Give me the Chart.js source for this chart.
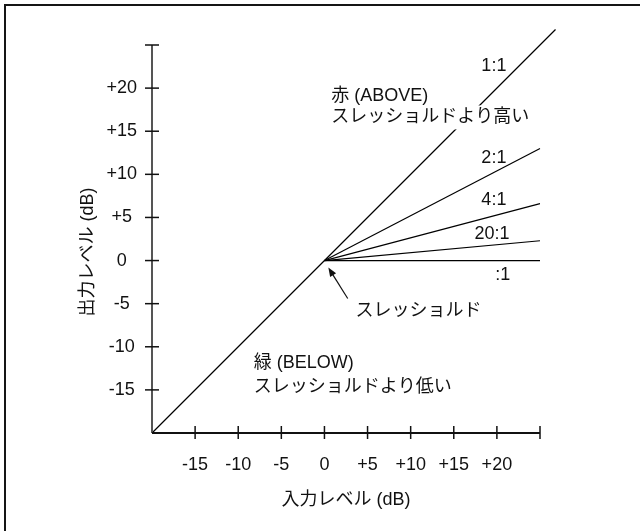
<!DOCTYPE html>
<html>
<head>
<meta charset="utf-8">
<script src="https://cdn.jsdelivr.net/npm/chart.js@4.4.1/dist/chart.umd.min.js"></script>
<style>
  html, body { margin: 0; padding: 0; background: #fff; width: 640px; height: 531px; overflow: hidden; }
  #frame { position: absolute; left: 4px; top: 4px; width: 2000px; height: 2000px;
           border-top: 2px solid #151515; border-left: 2px solid #151515; }
  #c { position: absolute; left: 0; top: 0; }
</style>
</head>
<body>
<div id="frame"></div>
<canvas id="c" width="640" height="531"></canvas>
<script>
// ---- data ----
const axisMin = -20;
const axisMax = 25;
const tickStep = 5;
const unityInput = [-20, 26.8];
const unityOutput = [-20, 26.8];
const ratioLabels = ['2:1', '4:1', '20:1', ':1'];
const ratioEndInput = [25, 25, 25, 25];
const ratioEndOutput = [13, 6.6, 2.3, 0];
const thresholdPoint = [0, 0];
const xTitle = '入力レベル (dB)';
const yTitle = '出力レベル (dB)';

// text annotations (data coordinates); bg = white box behind text
const notes = [
  { text: '1:1', x: 18.2, y: 22.6 },
  { text: '赤 (ABOVE)', x: 0.8, y: 19.1, bg: true },
  { text: 'スレッショルドより高い', x: 0.8, y: 16.6, bg: true },
  { text: '2:1', x: 18.2, y: 11.9 },
  { text: '4:1', x: 18.2, y: 7.0 },
  { text: '20:1', x: 17.4, y: 3.1 },
  { text: ':1', x: 19.8, y: -1.7 },
  { text: 'スレッショルド', x: 3.6, y: -5.8 },
  { text: '緑 (BELOW)', x: -8.2, y: -11.9 },
  { text: 'スレッショルドより低い', x: -8.2, y: -14.7 }
];
const arrowFrom = [2.7, -4.4];
const arrowTo = [0.45, -0.8];
const yTitleCenter = 1.0;   // output level at which the y title is centred

const FAMILY = '"Liberation Sans", Arial, "Noto Sans CJK JP", sans-serif';
const FS = 18;

const datasets = [{
  label: '1:1',
  data: unityInput.map((x, i) => ({ x: x, y: unityOutput[i] })),
  borderColor: '#000', borderWidth: 1.2, pointRadius: 0, clip: false
}];
ratioLabels.forEach((lab, i) => {
  datasets.push({
    label: lab,
    data: [{ x: thresholdPoint[0], y: thresholdPoint[1] }, { x: ratioEndInput[i], y: ratioEndOutput[i] }],
    borderColor: '#000', borderWidth: 1.2, pointRadius: 0, clip: false
  });
});

function fmt(v) {
  if (v === axisMin || v === axisMax) return '';
  return v > 0 ? '+' + v : String(v);
}

const axesPlugin = {
  id: 'axesAndNotes',
  afterDatasetsDraw(chart) {
    const ctx = chart.ctx;
    const xs = chart.scales.x, ys = chart.scales.y;
    const x0 = xs.getPixelForValue(axisMin), x1 = xs.getPixelForValue(axisMax);
    const y0 = ys.getPixelForValue(axisMin), y1 = ys.getPixelForValue(axisMax);
    ctx.save();
    // y axis line
    ctx.strokeStyle = '#555'; ctx.lineWidth = 2;
    ctx.beginPath(); ctx.moveTo(x0, y0); ctx.lineTo(x0, y1); ctx.stroke();
    // x axis line
    ctx.strokeStyle = '#111'; ctx.lineWidth = 2;
    ctx.beginPath(); ctx.moveTo(x0, y0); ctx.lineTo(x1, y0); ctx.stroke();
    // ticks
    ctx.strokeStyle = '#111'; ctx.lineWidth = 1.5;
    xs.ticks.forEach(t => {
      if (t.value === axisMin) return;
      const px = xs.getPixelForValue(t.value);
      ctx.beginPath(); ctx.moveTo(px, y0 - 7); ctx.lineTo(px, y0 + 6); ctx.stroke();
    });
    ys.ticks.forEach(t => {
      if (t.value === axisMin) return;
      const py = ys.getPixelForValue(t.value);
      ctx.beginPath(); ctx.moveTo(x0 - 7, py); ctx.lineTo(x0 + 7, py); ctx.stroke();
    });
    // notes: backgrounds first, then text
    ctx.font = FS + 'px ' + FAMILY;
    ctx.textAlign = 'left'; ctx.textBaseline = 'middle';
    ctx.fillStyle = '#fff';
    notes.forEach(n => {
      if (!n.bg) return;
      const px = xs.getPixelForValue(n.x), py = ys.getPixelForValue(n.y);
      const w = ctx.measureText(n.text).width;
      ctx.fillRect(px - 2, py - 12, w + 4, 24);
    });
    ctx.fillStyle = '#111';
    notes.forEach(n => {
      ctx.fillText(n.text, xs.getPixelForValue(n.x), ys.getPixelForValue(n.y));
    });
    // y title (rotated)
    ctx.save();
    ctx.translate(88, ys.getPixelForValue(yTitleCenter));
    ctx.rotate(-Math.PI / 2);
    ctx.textAlign = 'center';
    ctx.fillText(yTitle, 0, 0);
    ctx.restore();
    // arrow
    const ax = xs.getPixelForValue(arrowFrom[0]), ay = ys.getPixelForValue(arrowFrom[1]);
    const bx = xs.getPixelForValue(arrowTo[0]), by = ys.getPixelForValue(arrowTo[1]);
    const ang = Math.atan2(by - ay, bx - ax);
    const hl = 9, hw = 3.5;
    ctx.strokeStyle = '#111'; ctx.lineWidth = 1.2;
    ctx.beginPath(); ctx.moveTo(ax, ay);
    ctx.lineTo(bx - Math.cos(ang) * hl * 0.8, by - Math.sin(ang) * hl * 0.8); ctx.stroke();
    ctx.beginPath();
    ctx.moveTo(bx, by);
    ctx.lineTo(bx - Math.cos(ang) * hl - Math.sin(ang) * hw, by - Math.sin(ang) * hl + Math.cos(ang) * hw);
    ctx.lineTo(bx - Math.cos(ang) * hl + Math.sin(ang) * hw, by - Math.sin(ang) * hl - Math.cos(ang) * hw);
    ctx.closePath(); ctx.fill();
    ctx.restore();
  }
};

new Chart(document.getElementById('c'), {
  type: 'line',
  data: { datasets: datasets },
  options: {
    responsive: false,
    animation: false,
    devicePixelRatio: 1,
    layout: { padding: { top: 45, right: 100, left: 0, bottom: 0 } },
    plugins: { legend: { display: false }, tooltip: { enabled: false } },
    scales: {
      x: {
        type: 'linear', min: axisMin, max: axisMax,
        grid: { display: false }, border: { display: false },
        afterFit(s) { s.height = 98; },
        ticks: { stepSize: tickStep, padding: 13, color: '#111', autoSkip: false, maxRotation: 0,
                 font: { family: FAMILY, size: FS }, callback: v => fmt(v) },
        title: { display: true, text: xTitle, color: '#111', padding: { top: 0, bottom: 20 },
                 font: { family: FAMILY, size: FS } }
      },
      y: {
        type: 'linear', min: axisMin, max: axisMax,
        grid: { display: false }, border: { display: false },
        afterFit(s) { s.width = 152; },
        ticks: { stepSize: tickStep, padding: 7, crossAlign: 'center', color: '#111', autoSkip: false,
                 font: { family: FAMILY, size: FS }, callback: v => fmt(v) },
        title: { display: false }
      }
    }
  },
  plugins: [axesPlugin]
});
</script>
</body>
</html>
